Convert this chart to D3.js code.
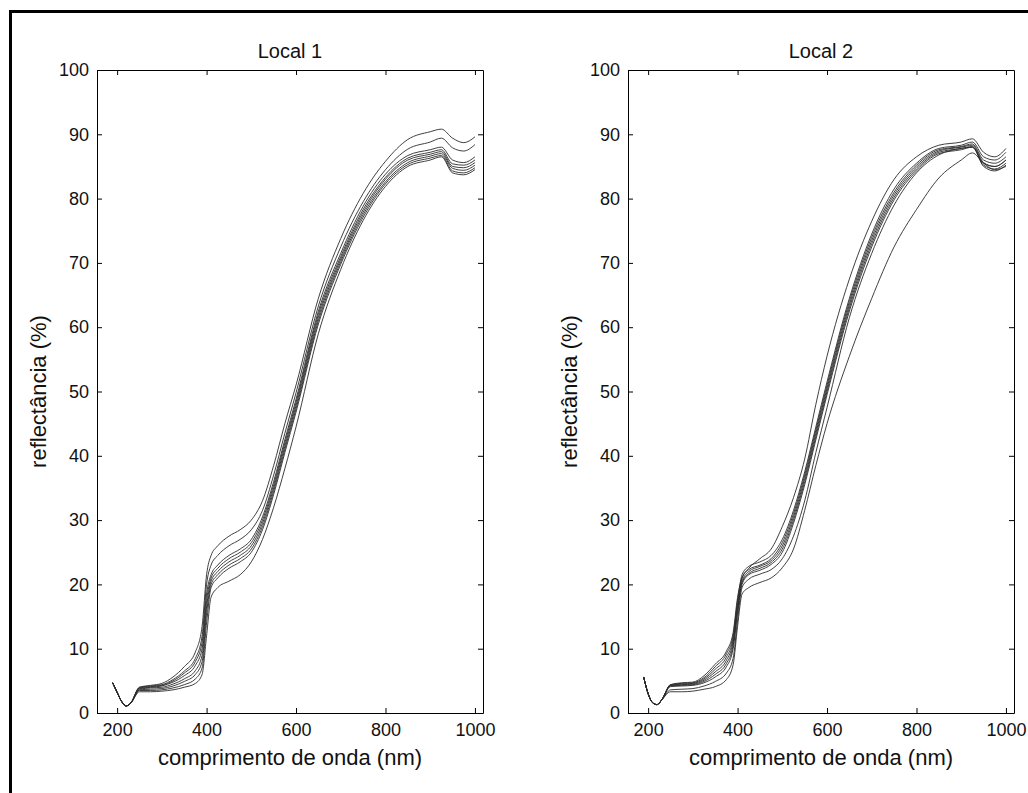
<!DOCTYPE html>
<html>
<head>
<meta charset="utf-8">
<script src="https://cdn.jsdelivr.net/npm/d3@7"></script>
<style>
  body { margin: 0; background: #fff; }
  svg { display: block; }
  text { font-family: "Liberation Sans", Arial, sans-serif; fill: #111; }
</style>
</head>
<body>
<script>
// wavelengths (nm) shared by every spectrum
var wavelength = [190, 200, 210, 220, 230, 250, 275, 300, 325, 350, 375, 390, 400, 410, 425, 450,
                  475, 500, 525, 550, 575, 600, 650, 700, 750, 800, 850, 900, 925, 950, 975, 1000];

// Local 1 reflectance spectra (%)
var local1 = [
  [4.7, 3.2, 1.8, 1.1, 1.5, 4.0, 4.3, 4.6, 5.6, 7.2, 9.5, 13.5, 21.5, 24.5, 26.0, 27.5, 28.5, 30.0, 33.0, 38.5, 45.0, 51.0, 64.5, 73.8, 80.8, 85.8, 89.2, 90.4, 90.8, 89.4, 88.7, 89.6],
  [4.7, 3.2, 1.8, 1.1, 1.5, 4.0, 4.2, 4.4, 5.2, 6.5, 8.5, 12.0, 20.0, 23.0, 24.5, 26.0, 27.0, 28.5, 31.5, 37.0, 43.5, 49.8, 63.3, 72.5, 79.5, 84.5, 87.7, 88.8, 89.4, 87.9, 87.4, 88.4],
  [4.7, 3.2, 1.8, 1.1, 1.5, 3.9, 4.1, 4.3, 5.0, 6.2, 8.0, 11.0, 18.5, 21.5, 23.0, 24.5, 25.5, 27.0, 30.5, 36.0, 42.5, 48.8, 62.5, 71.5, 78.8, 83.8, 86.7, 87.6, 88.0, 86.0, 85.6, 86.5],
  [4.7, 3.2, 1.8, 1.1, 1.5, 3.8, 4.0, 4.2, 4.8, 5.8, 7.4, 10.0, 17.5, 21.0, 22.5, 24.0, 25.0, 26.5, 30.0, 35.5, 42.0, 48.3, 62.0, 71.0, 78.3, 83.3, 86.3, 87.2, 87.6, 85.4, 85.2, 86.0],
  [4.7, 3.2, 1.8, 1.1, 1.5, 3.7, 3.9, 4.0, 4.5, 5.3, 6.6, 9.0, 16.5, 20.5, 22.0, 23.5, 24.5, 26.0, 29.5, 35.0, 41.5, 47.8, 61.5, 70.6, 77.9, 83.0, 86.0, 86.9, 87.3, 85.0, 84.8, 85.6],
  [4.7, 3.2, 1.8, 1.1, 1.5, 3.6, 3.7, 3.8, 4.2, 4.9, 6.0, 8.0, 15.5, 20.0, 21.5, 23.0, 24.0, 25.5, 29.0, 34.5, 41.0, 47.3, 61.0, 70.2, 77.5, 82.6, 85.6, 86.6, 87.0, 84.7, 84.4, 85.2],
  [4.7, 3.2, 1.8, 1.1, 1.5, 3.5, 3.5, 3.6, 3.9, 4.4, 5.3, 7.0, 14.0, 19.5, 21.0, 22.5, 23.5, 25.0, 28.5, 34.0, 40.5, 46.8, 60.5, 69.8, 77.1, 82.3, 85.3, 86.3, 86.7, 84.3, 84.0, 84.8],
  [4.7, 3.2, 1.8, 1.1, 1.5, 3.3, 3.3, 3.4, 3.6, 4.0, 4.6, 6.0, 12.0, 18.0, 19.5, 20.5, 21.5, 23.5, 27.0, 32.0, 38.0, 44.5, 59.0, 69.0, 76.6, 81.9, 85.0, 86.0, 86.5, 84.0, 83.7, 84.5]
];

// Local 2 reflectance spectra (%)
var local2 = [
  [5.6, 3.0, 1.6, 1.3, 2.0, 4.4, 4.7, 4.8, 5.8, 7.6, 9.6, 12.5, 18.0, 21.0, 22.5, 24.0, 25.5, 29.0, 33.5, 39.5, 48.0, 55.5, 67.5, 76.5, 83.0, 86.5, 88.3, 88.8, 89.3, 87.2, 86.5, 87.8],
  [5.6, 3.0, 1.6, 1.3, 2.0, 4.4, 4.6, 4.7, 5.5, 7.2, 9.2, 12.0, 17.5, 21.5, 22.8, 23.5, 24.5, 27.0, 31.5, 37.5, 44.5, 51.5, 64.5, 74.5, 81.5, 85.5, 87.8, 88.3, 88.8, 86.5, 86.0, 87.2],
  [5.6, 3.0, 1.6, 1.3, 2.0, 4.3, 4.5, 4.6, 5.3, 6.8, 8.7, 11.5, 17.0, 21.0, 22.3, 23.0, 24.0, 26.5, 31.0, 37.0, 44.0, 51.0, 64.0, 74.0, 81.0, 85.2, 87.6, 88.1, 88.5, 86.0, 85.5, 86.5],
  [5.6, 3.0, 1.6, 1.3, 2.0, 4.3, 4.4, 4.5, 5.1, 6.4, 8.2, 11.0, 16.5, 20.5, 22.0, 22.8, 23.7, 26.0, 30.5, 36.5, 43.5, 50.5, 63.5, 73.5, 80.6, 84.9, 87.4, 88.0, 88.3, 85.6, 85.0, 86.0],
  [5.6, 3.0, 1.6, 1.3, 2.0, 4.2, 4.3, 4.4, 4.9, 6.0, 7.7, 10.5, 16.0, 20.3, 21.7, 22.5, 23.4, 25.5, 30.0, 36.0, 43.0, 50.0, 63.0, 73.0, 80.2, 84.6, 87.2, 87.8, 88.1, 85.2, 84.6, 85.5],
  [5.6, 3.0, 1.6, 1.3, 2.0, 4.1, 4.2, 4.3, 4.7, 5.6, 7.2, 10.0, 15.5, 20.0, 21.5, 22.2, 23.1, 25.0, 29.5, 35.5, 42.5, 49.5, 62.5, 72.5, 79.8, 84.3, 87.0, 87.6, 88.0, 85.0, 84.3, 85.2],
  [5.6, 3.0, 1.6, 1.3, 2.0, 3.6, 3.7, 3.8, 4.2, 4.9, 6.2, 8.5, 14.5, 19.5, 20.8, 21.6, 22.3, 24.0, 27.5, 33.0, 40.5, 47.5, 61.5, 71.5, 79.0, 84.0, 86.8, 87.8, 88.0, 85.5, 85.0, 86.0],
  [5.6, 3.0, 1.6, 1.3, 2.0, 3.3, 3.3, 3.4, 3.7, 4.1, 5.2, 7.5, 13.5, 18.5, 19.5, 20.3, 21.0, 22.6, 25.5, 31.5, 38.5, 45.0, 55.5, 64.5, 72.5, 78.3, 83.2, 86.0, 87.1, 85.5, 84.5, 85.0]
];

var titles = ["Local 1", "Local 2"];
var xTicks = [200, 400, 600, 800, 1000];
var yTicks = [0, 10, 20, 30, 40, 50, 60, 70, 80, 90, 100];

var width = 1028, height = 793;
var plotW = 386, plotH = 643, plotTop = 70;
var panelLeft = [97, 628];

var svg = d3.select("body").append("svg")
    .attr("width", width)
    .attr("height", height);

// outer frame: only the top and left edges show in the picture
svg.append("path")
    .attr("d", "M10.5," + height + "V11.5H" + width)
    .attr("fill", "none")
    .attr("stroke", "#000")
    .attr("stroke-width", 3);

var xScale = d3.scaleLinear().domain([155, 1018]).range([0, plotW]);
var yScale = d3.scaleLinear().domain([0, 100]).range([plotH, 0]);

var line = d3.line()
    .x(function(d) { return xScale(d[0]); })
    .y(function(d) { return yScale(d[1]); })
    .curve(d3.curveMonotoneX);

[local1, local2].forEach(function(series, i) {
  var g = svg.append("g")
      .attr("transform", "translate(" + panelLeft[i] + "," + plotTop + ")");

  g.append("clipPath").attr("id", "clip" + i)
    .append("rect").attr("width", plotW).attr("height", plotH);

  // spectra
  g.append("g")
      .attr("clip-path", "url(#clip" + i + ")")
    .selectAll("path")
    .data(series)
    .enter().append("path")
      .attr("d", function(s) {
        return line(s.map(function(v, k) { return [wavelength[k], v]; }));
      })
      .attr("fill", "none")
      .attr("stroke", "#2a2a2a")
      .attr("stroke-width", 0.9);

  // axes, ticks pointing inward on all four sides
  g.append("g")
      .attr("transform", "translate(0," + plotH + ")")
      .call(d3.axisBottom(xScale).tickValues(xTicks).tickFormat(d3.format("d"))
              .tickSizeInner(-5).tickSizeOuter(0).tickPadding(10));
  g.append("g")
      .call(d3.axisTop(xScale).tickValues(xTicks).tickSizeInner(-5).tickSizeOuter(0).tickFormat(""));
  g.append("g")
      .call(d3.axisLeft(yScale).tickValues(yTicks).tickSizeInner(-5).tickSizeOuter(0).tickPadding(8));
  g.append("g")
      .attr("transform", "translate(" + plotW + ",0)")
      .call(d3.axisRight(yScale).tickValues(yTicks).tickSizeInner(-5).tickSizeOuter(0).tickFormat(""));

  g.selectAll(".domain, .tick line").attr("stroke", "#000");
  g.selectAll(".tick text")
      .attr("font-family", "Liberation Sans, Arial, sans-serif")
      .attr("font-size", 18)
      .attr("fill", "#111");

  // title and labels
  g.append("text")
      .attr("x", plotW / 2)
      .attr("y", -12)
      .attr("text-anchor", "middle")
      .attr("font-size", 20)
      .text(titles[i]);

  g.append("text")
      .attr("x", plotW / 2)
      .attr("y", plotH + 52)
      .attr("text-anchor", "middle")
      .attr("font-size", 22)
      .text("comprimento de onda (nm)");

  g.append("text")
      .attr("transform", "translate(-51," + (plotH / 2) + ") rotate(-90)")
      .attr("text-anchor", "middle")
      .attr("font-size", 22)
      .text("reflectância (%)");
});
</script>
</body>
</html>
